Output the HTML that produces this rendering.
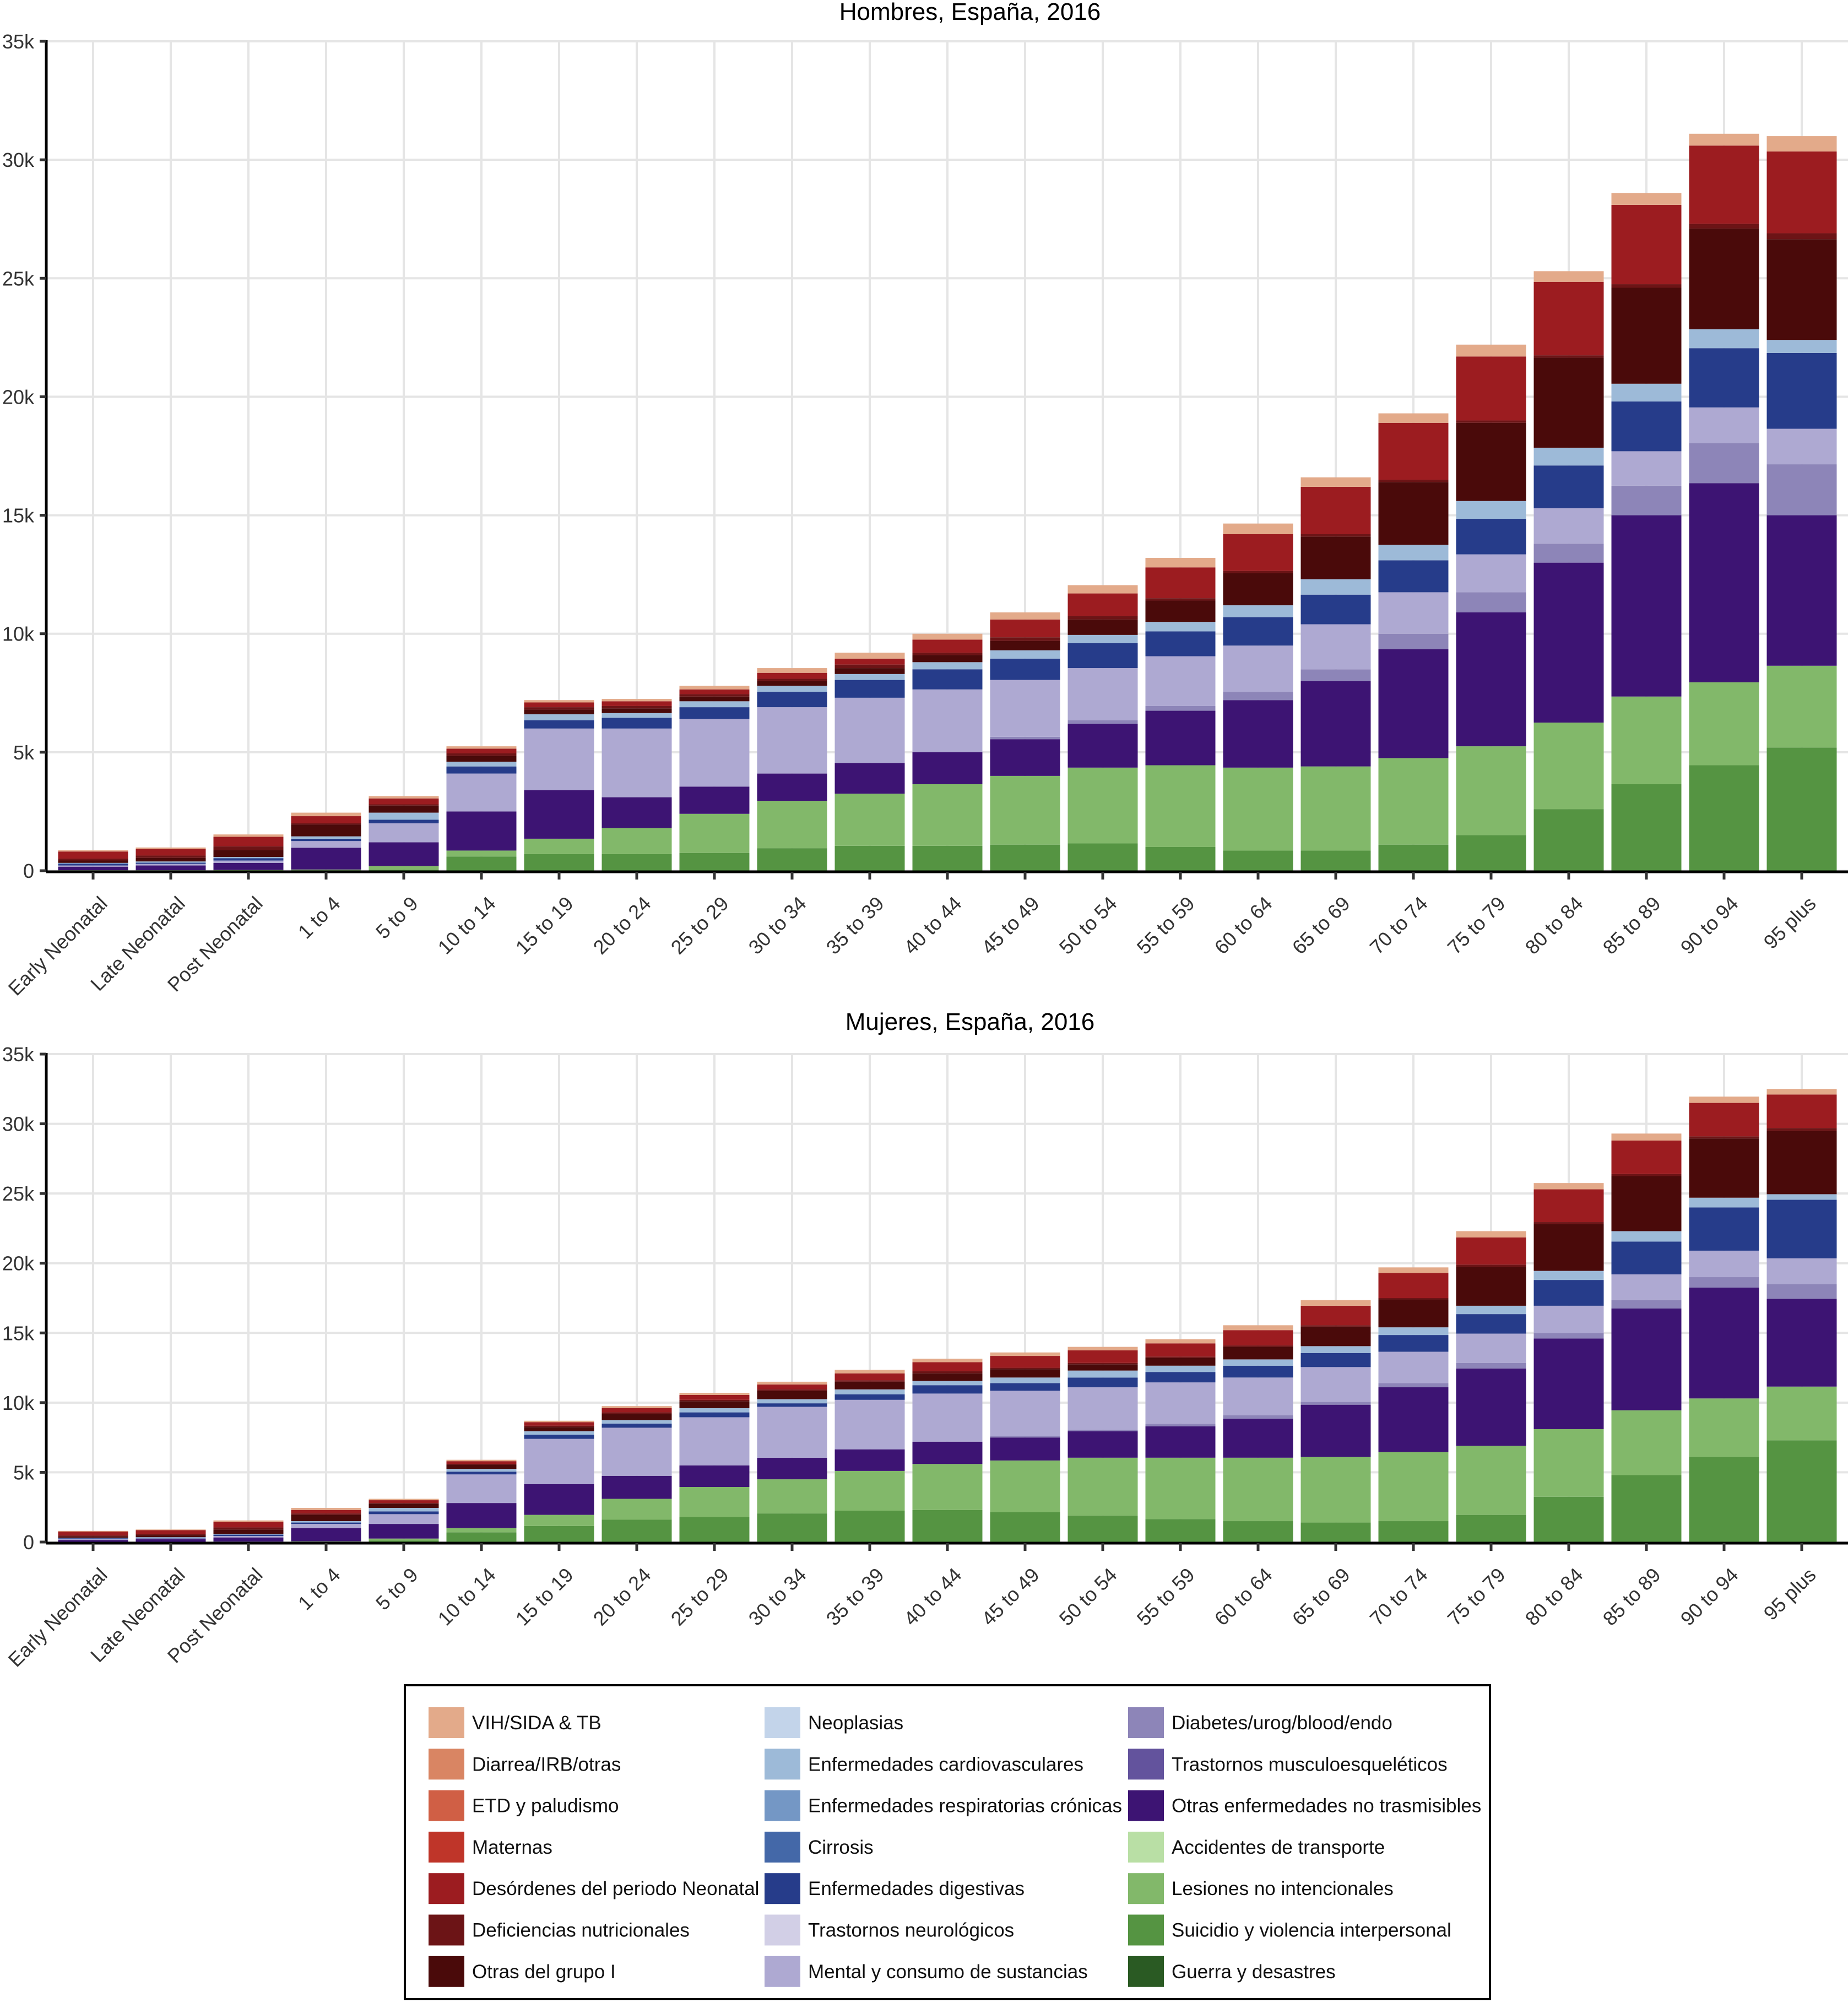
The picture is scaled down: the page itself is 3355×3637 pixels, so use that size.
<!DOCTYPE html>
<html><head><meta charset="utf-8">
<style>
html,body{margin:0;padding:0;background:#fff;}
body{width:3355px;height:3632px;overflow:hidden;position:relative;font-family:"Liberation Sans",sans-serif;}
svg text{font-family:"Liberation Sans",sans-serif;}
</style></head>
<body>
<svg id="chart" width="3355" height="3632" viewBox="0 0 3355 3632" xmlns="http://www.w3.org/2000/svg"></svg>
<script>
const ages = ["Early Neonatal","Late Neonatal","Post Neonatal","1 to 4","5 to 9","10 to 14","15 to 19","20 to 24","25 to 29","30 to 34","35 to 39","40 to 44","45 to 49","50 to 54","55 to 59","60 to 64","65 to 69","70 to 74","75 to 79","80 to 84","85 to 89","90 to 94","95 plus"];
const yTicks = [0,5,10,15,20,25,30,35];
const yTickLabels = ["0","5k","10k","15k","20k","25k","30k","35k"];
const layerColors = ["#559442","#82b86a","#3d1473","#8d85b8","#aea9d2","#263c8a","#9dbad8","#4a0a0a","#6c1416","#9c1c20","#e3aa8a"];
const layerNames = ["suicidio","lesiones","otras-no-trasmisibles","diabetes","mental","digestivas","cardiovasculares","otras-grupo-i","deficiencias","neonatal","vih"];
// cumulative tops (thousands) per layer — Hombres
const hDg = [0,0,0,0,0.05,0.6,0.7,0.7,0.75,0.95,1.05,1.05,1.1,1.15,1.0,0.85,0.85,1.1,1.5,2.6,3.65,4.45,5.2];
const hLg = [0.02,0.02,0.03,0.05,0.2,0.85,1.35,1.8,2.4,2.95,3.25,3.65,4.0,4.35,4.45,4.35,4.4,4.75,5.25,6.25,7.35,7.95,8.65];
const hPurple = [0.17,0.22,0.33,0.97,1.2,2.5,3.4,3.1,3.55,4.1,4.55,5.0,5.55,6.2,6.75,7.2,8.0,9.35,10.9,13.0,15.0,16.35,15.0];
const hDiab = [0.17,0.22,0.33,0.97,1.2,2.5,3.4,3.1,3.55,4.1,4.55,5.0,5.65,6.35,6.95,7.55,8.5,10.0,11.75,13.8,16.25,18.05,17.15];
const hMental = [0.22,0.29,0.43,1.25,2.0,4.1,6.0,6.0,6.4,6.9,7.3,7.65,8.05,8.55,9.05,9.5,10.4,11.75,13.35,15.3,17.7,19.55,18.65];
const hDig = [0.3,0.34,0.53,1.35,2.15,4.4,6.35,6.45,6.9,7.55,8.05,8.5,8.95,9.6,10.1,10.7,11.65,13.1,14.85,17.1,19.8,22.05,21.85];
const hCardio = [0.33,0.39,0.58,1.45,2.45,4.6,6.6,6.65,7.15,7.8,8.3,8.8,9.3,9.95,10.5,11.2,12.3,13.75,15.6,17.85,20.55,22.85,22.4];
const hGrpI = [0.43,0.54,0.88,1.95,2.75,4.85,6.8,6.85,7.35,8.0,8.55,9.1,9.7,10.6,11.4,12.55,14.1,16.4,18.9,21.65,24.6,27.1,26.65];
const hDef = [0.51,0.64,1.03,2.0,2.8,4.95,6.9,6.95,7.45,8.1,8.7,9.2,9.85,10.75,11.5,12.65,14.2,16.5,19.0,21.75,24.75,27.3,26.9];
const hNeo = [0.81,0.92,1.43,2.3,3.05,5.15,7.1,7.15,7.65,8.35,8.95,9.75,10.6,11.7,12.8,14.2,16.2,18.9,21.7,24.85,28.1,30.6,30.35];
const hPeach = [0.86,0.98,1.53,2.45,3.15,5.25,7.2,7.25,7.8,8.55,9.2,10.0,10.9,12.05,13.2,14.65,16.6,19.3,22.2,25.3,28.6,31.1,31.0];
// Mujeres
const mDg = [0,0,0,0,0.1,0.7,1.15,1.6,1.8,2.05,2.25,2.3,2.15,1.9,1.65,1.5,1.4,1.5,1.95,3.25,4.8,6.1,7.3];
const mLg = [0.02,0.02,0.03,0.05,0.25,1.0,1.95,3.1,3.95,4.5,5.1,5.6,5.85,6.05,6.05,6.05,6.1,6.45,6.9,8.1,9.45,10.3,11.15];
const mPurple = [0.15,0.2,0.33,1.0,1.3,2.8,4.15,4.75,5.5,6.05,6.65,7.2,7.5,7.95,8.3,8.85,9.85,11.1,12.45,14.6,16.75,18.25,17.45];
const mDiab = [0.15,0.2,0.33,1.0,1.3,2.8,4.15,4.75,5.5,6.05,6.65,7.2,7.6,8.05,8.5,9.1,10.05,11.4,12.85,15.0,17.35,19.0,18.5];
const mMental = [0.2,0.26,0.43,1.3,2.0,4.85,7.4,8.2,8.95,9.7,10.2,10.65,10.85,11.1,11.45,11.8,12.55,13.65,14.95,16.95,19.2,20.9,20.35];
const mDig = [0.27,0.31,0.53,1.4,2.2,5.05,7.7,8.5,9.3,9.95,10.6,11.25,11.4,11.8,12.2,12.65,13.55,14.85,16.35,18.8,21.55,24.0,24.55];
const mCardio = [0.3,0.35,0.58,1.5,2.45,5.25,7.95,8.75,9.6,10.25,10.95,11.55,11.8,12.3,12.65,13.1,14.05,15.4,16.95,19.45,22.3,24.7,24.95];
const mGrpI = [0.4,0.5,0.9,1.95,2.75,5.55,8.25,9.2,10.1,10.85,11.5,12.1,12.4,12.75,13.2,14.0,15.45,17.4,19.75,22.8,26.25,28.95,29.5];
const mDef = [0.47,0.58,1.05,2.05,2.8,5.6,8.35,9.3,10.2,10.95,11.6,12.25,12.5,12.85,13.3,14.1,15.55,17.5,19.9,22.95,26.4,29.1,29.7];
const mNeo = [0.75,0.85,1.45,2.3,3.0,5.8,8.6,9.6,10.55,11.3,12.1,12.9,13.35,13.75,14.25,15.2,16.95,19.3,21.85,25.3,28.8,31.5,32.1];
const mPeach = [0.8,0.9,1.55,2.45,3.1,5.9,8.7,9.75,10.7,11.5,12.35,13.15,13.6,14.0,14.55,15.55,17.35,19.7,22.3,25.75,29.3,31.95,32.5];
const legendLabels = ["VIH/SIDA & TB","Diarrea/IRB/otras","ETD y paludismo","Maternas","Desórdenes del periodo Neonatal","Deficiencias nutricionales","Otras del grupo I","Neoplasias","Enfermedades cardiovasculares","Enfermedades respiratorias crónicas","Cirrosis","Enfermedades digestivas","Trastornos neurológicos","Mental y consumo de sustancias","Diabetes/urog/blood/endo","Trastornos musculoesqueléticos","Otras enfermedades no trasmisibles","Accidentes de transporte","Lesiones no intencionales","Suicidio y violencia interpersonal","Guerra y desastres"];
const legendColors = ["#e3aa8a","#d98563","#d05f45","#bf3529","#9c1c20","#6c1416","#4a0a0a","#c3d4ea","#9dbad8","#7497c5","#4468a8","#263c8a","#d2cfe6","#aea9d2","#8d85b8","#63539d","#3d1473","#b9dfa5","#82b86a","#559442","#2a5a23"];

const NS="http://www.w3.org/2000/svg";
const svg=document.getElementById('chart');
function mk(tag,attrs,parent){const e=document.createElementNS(NS,tag);for(const k in attrs)e.setAttribute(k,attrs[k]);(parent||svg).appendChild(e);return e;}

function drawChart(prefix,title,titleY,y0,y35,layers){
  const g=mk('g',{});
  
  
  const xLeft=84, xRight=3355, step=141, first=169, bw=127;
  const xScale=i=>first+i*step;
  const yScale=v=>y0-(v/35)*(y0-y35);
  yTicks.forEach(t=>{
    const l=mk('line',{x1:xLeft,x2:xRight,y1:yScale(t),y2:yScale(t),stroke:'#e5e5e5','stroke-width':4},g);
    
    
  });
  ages.forEach((a,i)=>{
    const l=mk('line',{x1:xScale(i),x2:xScale(i),y1:y35,y2:y0,stroke:'#e5e5e5','stroke-width':4},g);
    
    
  });
  ages.forEach((a,i)=>{
    let prev=0;
    layers.forEach((arr,li)=>{
      const top=arr[i];
      if(top>prev){
        const r=mk('rect',{x:xScale(i)-bw/2,y:yScale(top),width:bw,height:yScale(prev)-yScale(top),fill:layerColors[li]},g);
        
        
      }
      prev=Math.max(prev,top);
    });
  });
  const ya=mk('line',{x1:xLeft,x2:xLeft,y1:y35-2,y2:y0+2,stroke:'#000','stroke-width':5},g);
  
  
  const xa=mk('line',{x1:xLeft,x2:xRight,y1:y0+2,y2:y0+2,stroke:'#000','stroke-width':5},g);
  
  
  yTicks.forEach((t,k)=>{
    mk('line',{x1:xLeft-12,x2:xLeft,y1:yScale(t),y2:yScale(t),stroke:'#333','stroke-width':5},g);
    const tx=mk('text',{x:62,y:yScale(t)+13,'text-anchor':'end','font-size':36,fill:'#333'},g);
    tx.textContent=yTickLabels[k];
    
    
  });
  ages.forEach((a,i)=>{
    mk('line',{x1:xScale(i),x2:xScale(i),y1:y0+2,y2:y0+16,stroke:'#333','stroke-width':5},g);
    const x=xScale(i)+28, y=y0+62;
    const tx=mk('text',{x:x,y:y,'text-anchor':'end','font-size':36,fill:'#333',transform:`rotate(-45 ${x} ${y})`},g);
    tx.textContent=a;
    
    
  });
  const tt=mk('text',{x:1761,y:titleY,'text-anchor':'middle','font-size':44,fill:'#000'},g);
  tt.textContent=title;
  
  
}
drawChart('hombres','Hombres, España, 2016',36,1581,75,[hDg,hLg,hPurple,hDiab,hMental,hDig,hCardio,hGrpI,hDef,hNeo,hPeach]);
drawChart('mujeres','Mujeres, España, 2016',1870,2800,1914,[mDg,mLg,mPurple,mDiab,mMental,mDig,mCardio,mGrpI,mDef,mNeo,mPeach]);

const lg=mk('g',{});


const box=mk('rect',{x:735,y:3060,width:1970,height:570,fill:'#fff',stroke:'#000','stroke-width':4},lg);


const colX=[778,1388,2048];
legendLabels.forEach((lab,k)=>{
  const c=Math.floor(k/7), r=k%7;
  const cy=3128+r*75.3;
  const e=mk('g',{},lg);
  
  
  mk('rect',{x:colX[c],y:cy-28,width:65,height:56,fill:legendColors[k]},e);
  const t=mk('text',{x:colX[c]+79,y:cy+12,'font-size':35,fill:'#111'},e);
  t.textContent=lab;
});
</script>
</body></html>
